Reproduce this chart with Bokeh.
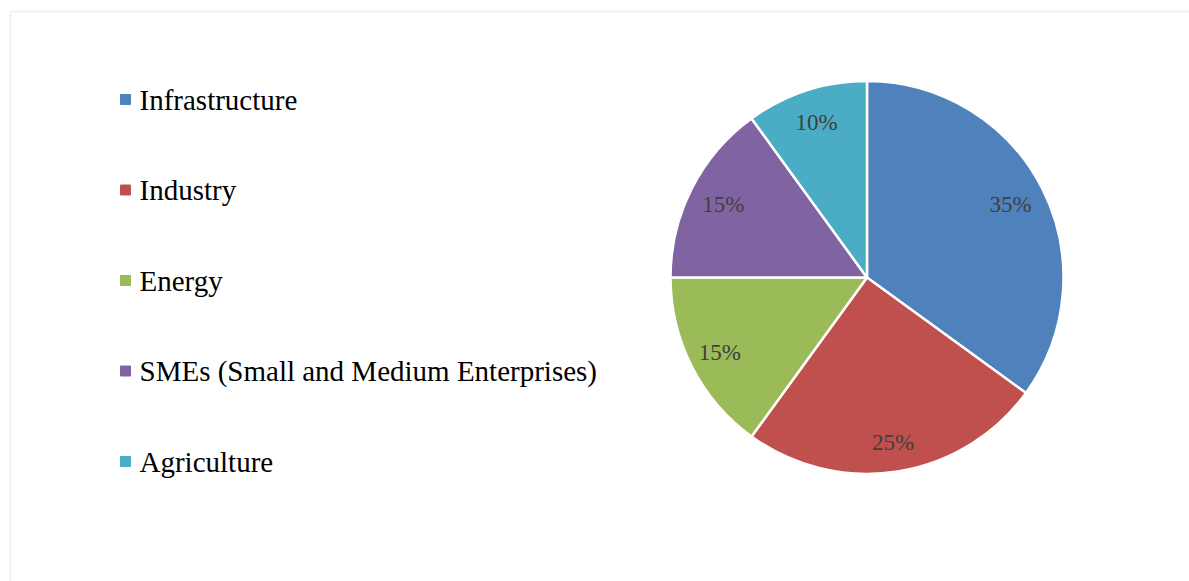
import math
from bokeh.plotting import figure
from bokeh.models import Range1d, ColumnDataSource, BoxAnnotation
from bokeh.core.properties import value
from bokeh.embed import file_html
from bokeh.resources import INLINE

categories = ["Infrastructure", "Industry", "Energy",
              "SMEs (Small and Medium Enterprises)", "Agriculture"]
shares = [35, 25, 15, 15, 10]
labels = ["35%", "25%", "15%", "15%", "10%"]
colors = ["#4F81BD", "#C0504D", "#9BBB59", "#8064A2", "#4BACC6"]

W, H = 1189, 581
p = figure(width=W, height=H, output_backend="svg", toolbar_location=None,
           x_range=Range1d(0, W), y_range=Range1d(0, H), min_border=0)
p.axis.visible = False
p.grid.visible = False
p.outline_line_color = None
p.background_fill_color = "white"
p.border_fill_color = "white"

# chart-area border
p.add_layout(BoxAnnotation(left=10, right=W + 20, bottom=-20, top=H - 11,
                           fill_alpha=0, line_color="#d4d4d4", line_width=2))

cx, cy, R = 866.5, H - 277, 196.5
total = float(sum(shares))
starts, ends, lx, ly = [], [], [], []
label_r = [0.82, 0.85, 0.84, 0.82, 0.83]
cum = 0.0
for i, s in enumerate(shares):
    a0 = math.pi / 2 - 2 * math.pi * cum / total
    cum += s
    a1 = math.pi / 2 - 2 * math.pi * cum / total
    starts.append(a0)
    ends.append(a1)
    mid = (a0 + a1) / 2
    lx.append(cx + label_r[i] * R * math.cos(mid))
    ly.append(cy + label_r[i] * R * math.sin(mid))

src = ColumnDataSource(dict(start=starts, end=ends, color=colors,
                            lx=lx, ly=ly, label=labels))
p.wedge(x=cx, y=cy, radius=R, start_angle="start", end_angle="end",
        direction="clock", fill_color="color", line_color="white",
        line_width=2.5, source=src)
p.text(x="lx", y="ly", text="label", source=src, text_align="center",
       text_baseline="middle", text_font=value("Liberation Serif"),
       text_font_size="23px", text_color="#404040")

# legend
ly0, dly = H - 99, 90.5
leg = ColumnDataSource(dict(
    y=[ly0 - i * dly for i in range(len(categories))],
    color=colors, name=categories))
p.scatter(x=125, y="y", marker="square", size=10, fill_color="color",
          line_color="color", source=leg)
p.text(x=139, y="y", text="name", source=leg, text_align="left",
       text_baseline="middle", text_font=value("Liberation Serif"),
       text_font_size="29px", text_color="black")

open("out.html", "w").write(file_html(p, INLINE))
